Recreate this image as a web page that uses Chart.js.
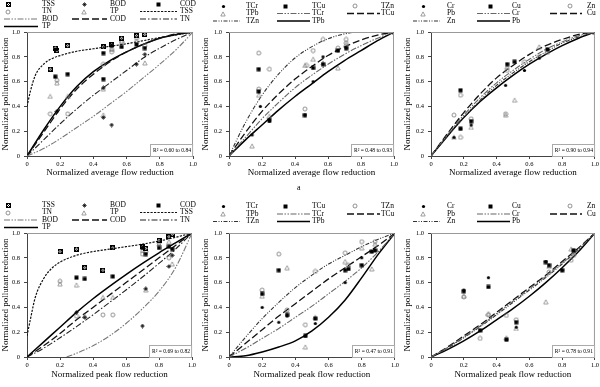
<!DOCTYPE html>
<html>
<head>
<meta charset="utf-8">
<script src="https://cdn.jsdelivr.net/npm/chart.js@4.4.1/dist/chart.umd.min.js"></script>
<style>
  html, body { margin: 0; padding: 0; background: #fff; }
  #fig { position: relative; width: 600px; height: 387px; overflow: hidden; font-family: "Liberation Serif", serif; }
  .panel { position: absolute; width: 200px; }
  .panel canvas { display: block; }
  #lbl { position: absolute; left: 297px; top: 183px; font-size: 8px; line-height: 10px; }
</style>
</head>
<body>
<div id="fig">
  <div class="panel" style="left:0;top:0"><canvas id="c1" width="200" height="190"></canvas></div>
  <div class="panel" style="left:200px;top:0"><canvas id="c2" width="200" height="190"></canvas></div>
  <div class="panel" style="left:400px;top:0"><canvas id="c3" width="200" height="190"></canvas></div>
  <div class="panel" style="left:0;top:190px"><canvas id="c4" width="200" height="197"></canvas></div>
  <div class="panel" style="left:200px;top:190px"><canvas id="c5" width="200" height="197"></canvas></div>
  <div class="panel" style="left:400px;top:190px"><canvas id="c6" width="200" height="197"></canvas></div>
  <div id="lbl">a</div>
</div>
<script>
// ---- names / texts ----
const convNames = ["TSS", "BOD", "COD", "TN", "TP"];
const totalMetalNames = ["TCr", "TCu", "TZn", "TPb"];
const metalNames = ["Cr", "Cu", "Zn", "Pb"];
const r2Texts = ["R\u00b2 = 0.60 to 0.84", "R\u00b2 = 0.48 to 0.93", "R\u00b2 = 0.90 to 0.94",
                 "R\u00b2 = 0.69 to 0.82", "R\u00b2 = 0.47 to 0.91", "R\u00b2 = 0.78 to 0.91"];
const xTitleAvg = "Normalized average flow reduction";
const xTitlePeak = "Normalized peak flow reduction";
const yTitle = "Normalized pollutant reduction";

// ---- average flow, conventional pollutants (points [x, y]) ----
const avgTSS = [[0.14,0.70],[0.17,0.87],[0.18,0.85],[0.245,0.89],[0.46,0.88],[0.51,0.90],[0.57,0.95],[0.66,0.97],[0.71,0.98]];
const avgBOD = [[0.18,0.36],[0.46,0.55],[0.46,0.31],[0.51,0.25],[0.66,0.74],[0.71,0.82]];
const avgCOD = [[0.17,0.64],[0.245,0.66],[0.46,0.62],[0.46,0.83],[0.51,0.89],[0.57,0.88],[0.66,0.90],[0.71,0.87]];
const avgTN  = [[0.14,0.34],[0.18,0.61],[0.245,0.34],[0.46,0.74],[0.51,0.84],[0.51,0.86],[0.57,0.92],[0.66,0.95],[0.71,0.89]];
const avgTP  = [[0.14,0.48],[0.18,0.59],[0.245,0.48],[0.46,0.54],[0.46,0.33],[0.51,0.86],[0.57,0.93],[0.66,0.93],[0.71,0.75]];
// fitted curves
const avgFitTSS = [[0,0.40],[0.02,0.52],[0.05,0.65],[0.1,0.74],[0.15,0.785],[0.2,0.81],[0.3,0.845],[0.4,0.865],[0.5,0.885],[0.6,0.905],[0.7,0.93],[0.8,0.955],[0.9,0.977],[1,1]];
const avgFitBOD = [[0,0],[0.1,0.06],[0.2,0.14],[0.3,0.23],[0.4,0.32],[0.5,0.42],[0.6,0.52],[0.7,0.63],[0.8,0.74],[0.9,0.86],[1,1]];
const avgFitCOD = [[0,0],[0.1,0.19],[0.2,0.38],[0.3,0.54],[0.4,0.66],[0.5,0.76],[0.6,0.84],[0.7,0.9],[0.8,0.95],[0.9,0.985],[1,1]];
const avgFitTN  = [[0,0],[0.1,0.13],[0.2,0.26],[0.3,0.38],[0.4,0.49],[0.5,0.59],[0.6,0.69],[0.7,0.79],[0.8,0.87],[0.9,0.94],[1,1]];
const avgFitTP  = [[0,0],[0.1,0.21],[0.2,0.40],[0.3,0.56],[0.4,0.68],[0.5,0.77],[0.6,0.84],[0.7,0.9],[0.8,0.95],[0.9,0.98],[1,1]];

// ---- average flow, total metals ----
const avgTCr = [[0.14,0.17],[0.19,0.40],[0.245,0.28],[0.46,0.33],[0.51,0.60],[0.57,0.80],[0.66,0.85],[0.71,0.87],[1,1]];
const avgTCu = [[0.18,0.70],[0.18,0.52],[0.245,0.29],[0.46,0.33],[0.51,0.71],[0.57,0.74],[0.66,0.85],[0.71,0.87],[1,1]];
const avgTZn = [[0.18,0.83],[0.18,0.54],[0.245,0.70],[0.46,0.38],[0.47,0.73],[0.51,0.85],[0.57,0.94],[0.66,0.87],[0.71,0.94],[0.71,0.91],[1,1]];
const avgTPb = [[0.14,0.08],[0.18,0.49],[0.245,0.32],[0.46,0.73],[0.51,0.78],[0.57,0.75],[0.66,0.71],[0.71,0.90]];
const avgFitTCr = [[0,0],[0.1,0.15],[0.2,0.30],[0.3,0.43],[0.4,0.55],[0.5,0.65],[0.6,0.74],[0.7,0.82],[0.8,0.89],[0.9,0.95],[1,1]];
const avgFitTCu = [[0,0],[0.1,0.19],[0.2,0.36],[0.3,0.50],[0.4,0.62],[0.5,0.72],[0.6,0.81],[0.7,0.88],[0.8,0.935],[0.9,0.975],[1,1]];
const avgFitTZn = [[0,0],[0.1,0.27],[0.2,0.49],[0.3,0.66],[0.4,0.79],[0.5,0.88],[0.6,0.945],[0.7,0.985],[0.8,1],[0.9,1],[1,1]];
const avgFitTPb = [[0,0],[0.1,0.13],[0.2,0.25],[0.3,0.37],[0.4,0.48],[0.5,0.58],[0.6,0.68],[0.7,0.77],[0.8,0.85],[0.9,0.93],[1,1]];

// ---- average flow, dissolved metals ----
const avgCr = [[0.14,0.15],[0.18,0.22],[0.245,0.25],[0.455,0.57],[0.57,0.69],[0.66,0.79],[0.71,0.86],[1,1]];
const avgCu = [[0.18,0.53],[0.18,0.22],[0.245,0.28],[0.465,0.74],[0.51,0.76],[0.71,0.86],[1,1]];
const avgZn = [[0.14,0.33],[0.18,0.15],[0.18,0.49],[0.245,0.30],[0.455,0.34],[0.465,0.69],[0.57,0.76],[0.66,0.80],[1,1]];
const avgPb = [[0.14,0.15],[0.245,0.23],[0.455,0.33],[0.465,0.72],[0.51,0.45],[0.66,0.88],[0.71,0.84]];
const avgFitCr = [[0,0],[0.1,0.17],[0.2,0.33],[0.3,0.47],[0.4,0.59],[0.5,0.69],[0.6,0.78],[0.7,0.86],[0.8,0.92],[0.9,0.97],[1,1]];
const avgFitCu = [[0,0],[0.1,0.18],[0.2,0.35],[0.3,0.50],[0.4,0.63],[0.5,0.73],[0.6,0.82],[0.7,0.89],[0.8,0.94],[0.9,0.98],[1,1]];
const avgFitZn = [[0,0],[0.1,0.16],[0.2,0.31],[0.3,0.45],[0.4,0.57],[0.5,0.67],[0.6,0.76],[0.7,0.84],[0.8,0.91],[0.9,0.96],[1,1]];
const avgFitPb = [[0,0],[0.1,0.16],[0.2,0.31],[0.3,0.44],[0.4,0.55],[0.5,0.65],[0.6,0.74],[0.7,0.82],[0.8,0.89],[0.9,0.95],[1,1]];

// ---- peak flow, conventional pollutants ----
const peakTSS = [[0.2,0.85],[0.3,0.87],[0.35,0.72],[0.46,0.70],[0.52,0.88],[0.70,0.89],[0.72,0.875],[0.80,0.94],[0.86,0.97],[0.88,0.99]];
const peakBOD = [[0.3,0.36],[0.35,0.32],[0.70,0.25],[0.72,0.55],[0.86,0.73],[0.88,0.82]];
const peakCOD = [[0.3,0.64],[0.35,0.63],[0.52,0.65],[0.70,0.88],[0.72,0.83],[0.80,0.88],[0.86,0.89],[0.88,0.87]];
const peakTN  = [[0.2,0.61],[0.3,0.33],[0.46,0.34],[0.52,0.34],[0.70,0.83],[0.72,0.85],[0.80,0.92],[0.86,0.80]];
const peakTP  = [[0.2,0.59],[0.3,0.58],[0.35,0.33],[0.46,0.48],[0.52,0.48],[0.70,0.86],[0.72,0.54],[0.80,0.91],[0.86,0.93],[0.88,0.75]];
const peakFitTSS = [[0,0.17],[0.02,0.30],[0.05,0.48],[0.1,0.63],[0.15,0.715],[0.2,0.765],[0.3,0.82],[0.4,0.85],[0.5,0.87],[0.6,0.89],[0.7,0.91],[0.8,0.935],[0.9,0.965],[1,1]];
const peakFitBOD = [[0.24,0],[0.3,0.03],[0.4,0.09],[0.5,0.17],[0.6,0.27],[0.7,0.39],[0.8,0.53],[0.9,0.72],[1,1]];
const peakFitCOD = [[0,0],[0.1,0.09],[0.2,0.19],[0.3,0.30],[0.4,0.40],[0.5,0.50],[0.6,0.60],[0.7,0.70],[0.8,0.80],[0.9,0.90],[1,1]];
const peakFitTN  = [[0,0],[0.1,0.07],[0.2,0.155],[0.3,0.245],[0.4,0.34],[0.5,0.44],[0.6,0.54],[0.7,0.645],[0.8,0.755],[0.9,0.87],[1,1]];
const peakFitTP  = [[0,0],[0.1,0.12],[0.2,0.24],[0.3,0.36],[0.4,0.47],[0.5,0.57],[0.6,0.665],[0.7,0.755],[0.8,0.84],[0.9,0.92],[1,1]];

// ---- peak flow, total metals ----
const peakTCr = [[0.2,0.40],[0.3,0.28],[0.35,0.33],[0.46,0.17],[0.52,0.27],[0.70,0.60],[0.80,0.80],[0.86,0.85],[0.88,0.86],[1,1]];
const peakTCu = [[0.2,0.51],[0.3,0.70],[0.35,0.34],[0.46,0.17],[0.52,0.31],[0.70,0.70],[0.72,0.71],[0.80,0.74],[0.86,0.85],[0.88,0.86],[1,1]];
const peakTZn = [[0.2,0.54],[0.3,0.83],[0.35,0.38],[0.46,0.26],[0.52,0.69],[0.70,0.84],[0.72,0.74],[0.80,0.93],[0.88,0.93],[1,1]];
const peakTPb = [[0.2,0.49],[0.35,0.72],[0.46,0.08],[0.52,0.32],[0.70,0.77],[0.80,0.88],[0.86,0.71],[0.88,0.91]];
const peakFitTCr = [[0,0],[0.1,0.07],[0.2,0.15],[0.3,0.23],[0.4,0.32],[0.5,0.41],[0.6,0.51],[0.7,0.61],[0.8,0.72],[0.9,0.85],[1,1]];
const peakFitTCu = [[0,0],[0.1,0.11],[0.2,0.22],[0.3,0.33],[0.4,0.43],[0.5,0.53],[0.6,0.63],[0.7,0.72],[0.8,0.81],[0.9,0.90],[1,1]];
const peakFitTZn = [[0,0],[0.1,0.16],[0.2,0.31],[0.3,0.44],[0.4,0.56],[0.5,0.66],[0.6,0.75],[0.7,0.82],[0.8,0.89],[0.9,0.95],[1,1]];
const peakFitTPb = [[0,0],[0.1,0.01],[0.2,0.04],[0.3,0.08],[0.4,0.13],[0.5,0.21],[0.6,0.32],[0.7,0.46],[0.8,0.64],[0.9,0.83],[1,1]];

// ---- peak flow, dissolved metals ----
const peakCr = [[0.2,0.54],[0.3,0.215],[0.35,0.64],[0.46,0.14],[0.52,0.24],[0.70,0.77],[0.80,0.70],[0.87,0.86]];
const peakCu = [[0.2,0.53],[0.3,0.215],[0.35,0.565],[0.46,0.14],[0.52,0.28],[0.70,0.765],[0.72,0.74],[0.80,0.70],[0.87,0.86]];
const peakZn = [[0.2,0.485],[0.3,0.15],[0.35,0.34],[0.46,0.335],[0.52,0.30],[0.72,0.685],[0.855,0.78],[0.87,0.82],[1,1]];
const peakPb = [[0.2,0.49],[0.35,0.35],[0.46,0.155],[0.52,0.23],[0.70,0.445],[0.72,0.73],[0.855,0.87],[0.87,0.84]];
const peakFitCr = [[0,0],[0.1,0.075],[0.2,0.16],[0.3,0.25],[0.4,0.35],[0.5,0.45],[0.6,0.55],[0.7,0.65],[0.8,0.76],[0.9,0.87],[1,1]];
const peakFitCu = [[0,0],[0.1,0.08],[0.2,0.17],[0.3,0.26],[0.4,0.36],[0.5,0.46],[0.6,0.56],[0.7,0.66],[0.8,0.77],[0.9,0.88],[1,1]];
const peakFitZn = [[0,0],[0.1,0.07],[0.2,0.155],[0.3,0.245],[0.4,0.34],[0.5,0.44],[0.6,0.54],[0.7,0.64],[0.8,0.75],[0.9,0.87],[1,1]];
const peakFitPb = [[0,0],[0.1,0.06],[0.2,0.13],[0.3,0.21],[0.4,0.30],[0.5,0.39],[0.6,0.49],[0.7,0.60],[0.8,0.72],[0.9,0.85],[1,1]];

const FONT = '"Liberation Serif", serif';

// =============================
// MARKERS
// =============================
function marker(size, draw) {
  const c = document.createElement("canvas");
  c.width = size;
  c.height = size;
  draw(c.getContext("2d"));
  return c;
}

const mBoxX = marker(5, (g) => {
  g.strokeStyle = "#000"; g.lineWidth = 1;
  g.strokeRect(0.5, 0.5, 4, 4);
  g.beginPath(); g.moveTo(1, 1); g.lineTo(4, 4); g.moveTo(4, 1); g.lineTo(1, 4); g.stroke();
});
const mStar = marker(5, (g) => {
  g.strokeStyle = "#000"; g.lineWidth = 0.7;
  g.beginPath();
  g.moveTo(2.5, 0.3); g.lineTo(2.5, 4.7); g.moveTo(0.3, 2.5); g.lineTo(4.7, 2.5);
  g.moveTo(1, 1); g.lineTo(4, 4); g.moveTo(4, 1); g.lineTo(1, 4);
  g.stroke();
});
const mSquare = marker(5, (g) => { g.fillStyle = "#000"; g.fillRect(0.5, 0.5, 4, 4); });
const mCircle = marker(6, (g) => {
  g.strokeStyle = "#777"; g.lineWidth = 0.8;
  g.beginPath(); g.arc(3, 3, 2, 0, Math.PI * 2); g.stroke();
});
const mTriangle = marker(6, (g) => {
  g.strokeStyle = "#888"; g.lineWidth = 0.8;
  g.beginPath(); g.moveTo(3, 0.9); g.lineTo(5.2, 5); g.lineTo(0.8, 5); g.closePath(); g.stroke();
});
const mDot = marker(5, (g) => {
  g.fillStyle = "#000";
  g.beginPath(); g.arc(2.5, 2.5, 1.6, 0, Math.PI * 2); g.fill();
});

const convMarkers = [mBoxX, mStar, mSquare, mCircle, mTriangle];
const metalMarkers = [mDot, mSquare, mCircle, mTriangle];

// line styles for fitted curves
const convLines = [
  { dash: [2.2, 1.3], color: "#111", width: 1.2 },
  { dash: [6, 1.5, 1.5, 1.5, 1.5, 1.5], color: "#777", width: 1.1 },
  { dash: [7, 3], color: "#111", width: 1.3 },
  { dash: [6, 2, 1.5, 2], color: "#222", width: 1.1 },
  { dash: [], color: "#000", width: 1.5 },
];
const metalLines = [
  { dash: [6, 1.5, 1.5, 1.5, 1.5, 1.5], color: "#666", width: 1.1 },
  { dash: [7, 3], color: "#111", width: 1.3 },
  { dash: [4, 1.5, 1, 1.5, 1, 1.5], color: "#333", width: 1.1 },
  { dash: [], color: "#000", width: 1.5 },
];

// =============================
// PLUGINS
// =============================
function gridLegend(cfg) {
  return {
    id: "gridLegend",
    afterDraw(chart) {
      const ctx = chart.ctx;
      ctx.save();
      ctx.font = "7.5px " + FONT;
      ctx.textBaseline = "middle";
      ctx.fillStyle = "#000";
      chart.data.datasets.forEach((ds, i) => {
        const col = i % 3;
        const y = cfg.rows[Math.floor(i / 3)];
        if (ds.showLine) {
          const [x0, x1] = cfg.lineCols[col];
          ctx.save();
          ctx.strokeStyle = ds.borderColor;
          ctx.lineWidth = ds.borderWidth;
          ctx.setLineDash(ds.borderDash);
          ctx.beginPath(); ctx.moveTo(x0, y); ctx.lineTo(x1, y); ctx.stroke();
          ctx.restore();
        } else {
          const img = ds.pointStyle;
          ctx.drawImage(img, Math.round(cfg.markCols[col] - img.width / 2), Math.round(y - img.height / 2));
        }
        ctx.fillText(ds.label, cfg.textCols[col], y);
      });
      ctx.restore();
    },
  };
}

function frameAndR2(cfg) {
  return {
    id: "frameAndR2",
    afterDatasetsDraw(chart) {
      const { ctx, chartArea: a } = chart;
      ctx.save();
      ctx.strokeStyle = "#999";
      ctx.lineWidth = 1;
      ctx.beginPath();
      ctx.moveTo(a.left, a.top + 0.5);
      ctx.lineTo(a.right - 0.5, a.top + 0.5);
      ctx.lineTo(a.right - 0.5, a.bottom);
      ctx.stroke();

      ctx.font = "5.6px " + FONT;
      const w = ctx.measureText(cfg.r2).width + 5;
      const h = 12;
      const x = a.right - w;
      const y = a.bottom - h;
      ctx.fillStyle = "#fff";
      ctx.fillRect(x, y, w, h);
      ctx.strokeStyle = "#aaa";
      ctx.strokeRect(Math.round(x) + 0.5, Math.round(y) + 0.5, w - 1, h);
      ctx.fillStyle = "#000";
      ctx.textBaseline = "middle";
      ctx.fillText(cfg.r2, x + 3, y + h / 2 + 0.5);
      ctx.restore();
    },
  };
}

// =============================
// PANEL BUILDER
// =============================
function axis(title, fit) {
  return {
    type: "linear",
    min: 0,
    max: 1,
    ticks: { stepSize: 0.2, font: { family: FONT, size: 6.5 }, color: "#000", padding: 1, maxRotation: 0 },
    grid: { display: true, drawOnChartArea: false, tickLength: 3, color: "#444" },
    border: { color: "#444", width: 1 },
    title: { display: true, text: title, font: { family: FONT, size: 9 }, color: "#000", padding: 0 },
    afterFit: fit,
  };
}

function makePanel(id, points, fits, names, markers, lines, cfg) {
  const datasets = [];
  points.forEach((pts, i) => {
    datasets.push({
      label: names[i],
      data: pts.map(([x, y]) => ({ x, y })),
      pointStyle: markers[i],
      pointRadius: 3,
      showLine: false,
    });
  });
  fits.forEach((pts, i) => {
    datasets.push({
      label: names[i],
      data: pts.map(([x, y]) => ({ x, y })),
      showLine: true,
      pointRadius: 0,
      borderColor: lines[i].color,
      borderWidth: lines[i].width,
      borderDash: lines[i].dash,
      cubicInterpolationMode: "monotone",
      fill: false,
    });
  });

  const yAxis = axis(yTitle, (s) => { s.width = cfg.yW; });
  yAxis.ticks.padding = 4;

  new Chart(document.getElementById(id), {
    type: "scatter",
    data: { datasets },
    options: {
      responsive: false,
      animation: false,
      events: [],
      layout: { padding: { top: cfg.top, left: cfg.pl, right: cfg.pr, bottom: cfg.pb } },
      plugins: { legend: { display: false }, tooltip: { enabled: false } },
      scales: {
        x: axis(cfg.xTitle, (s) => { s.height = cfg.xH; }),
        y: yAxis,
      },
    },
    plugins: [frameAndR2(cfg), gridLegend(cfg)],
  });
}

const leftCols = { markCols: [8, 84, 158], lineCols: [[4, 38], [72, 107], [140, 177]], textCols: [42, 110, 180] };
const midCols = { markCols: [23, 85, 155], lineCols: [[13, 40], [77, 110], [147, 180]], textCols: [46, 112, 181] };
const rightCols = { markCols: [23, 90, 170], lineCols: [[13, 40], [77, 110], [150, 182]], textCols: [47, 112, 187] };

const topRow = { top: 32, pb: 12, xH: 22 };
const bottomRow = { top: 43, pb: 7, xH: 23 };

makePanel("c1", [avgTSS, avgBOD, avgCOD, avgTN, avgTP], [avgFitTSS, avgFitBOD, avgFitCOD, avgFitTN, avgFitTP],
  convNames, convMarkers, convLines,
  { ...topRow, ...leftCols, pl: 0, yW: 27, pr: 7, rows: [4, 11.5, 19, 26.5], xTitle: xTitleAvg, r2: r2Texts[0] });

makePanel("c2", [avgTCr, avgTCu, avgTZn, avgTPb], [avgFitTCr, avgFitTCu, avgFitTZn, avgFitTPb],
  totalMetalNames, metalMarkers, metalLines,
  { ...topRow, ...midCols, pl: 0, yW: 29, pr: 6, rows: [6, 13.5, 21], xTitle: xTitleAvg, r2: r2Texts[1] });

makePanel("c3", [avgCr, avgCu, avgZn, avgPb], [avgFitCr, avgFitCu, avgFitZn, avgFitPb],
  metalNames, metalMarkers, metalLines,
  { ...topRow, ...rightCols, pl: 2, yW: 29, pr: 2, rows: [6, 13.5, 21], xTitle: xTitleAvg, r2: r2Texts[2] });

makePanel("c4", [peakTSS, peakBOD, peakCOD, peakTN, peakTP], [peakFitTSS, peakFitBOD, peakFitCOD, peakFitTN, peakFitTP],
  convNames, convMarkers, convLines,
  { ...bottomRow, ...leftCols, pl: 0, yW: 27, pr: 8, rows: [15, 22.5, 30, 37.5], xTitle: xTitlePeak, r2: r2Texts[3] });

makePanel("c5", [peakTCr, peakTCu, peakTZn, peakTPb], [peakFitTCr, peakFitTCu, peakFitTZn, peakFitTPb],
  totalMetalNames, metalMarkers, metalLines,
  { ...bottomRow, ...midCols, pl: 0, yW: 29, pr: 3, rows: [16, 24, 31.5], xTitle: xTitlePeak, r2: r2Texts[4] });

makePanel("c6", [peakCr, peakCu, peakZn, peakPb], [peakFitCr, peakFitCu, peakFitZn, peakFitPb],
  metalNames, metalMarkers, metalLines,
  { ...bottomRow, ...rightCols, pl: 2, yW: 29, pr: 2, rows: [16, 24, 31.5], xTitle: xTitlePeak, r2: r2Texts[5] });
</script>
</body>
</html>
